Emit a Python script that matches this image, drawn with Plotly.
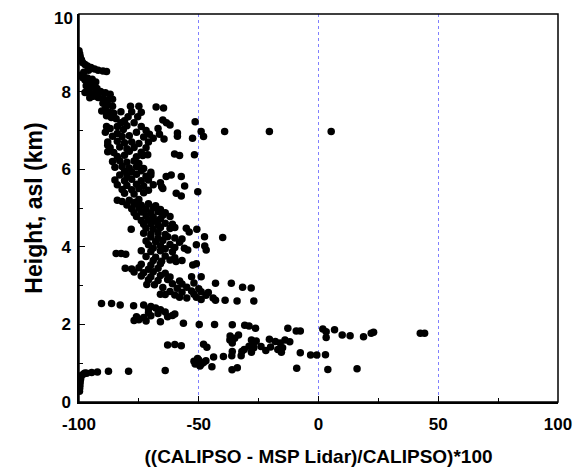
import plotly.graph_objects as go

# ---- data (x = % difference, h = height km asl) ----
top_x = [-100, -99.7, -99.5, -99, -98.5, -97.5, -96.5, -95, -93.5, -92, -90, -88.5, -96, -98,
         -99, -98.5, -97.5, -96.5, -94.5, -93, -95.5, -97, -94, -92.5, -96, -97.5, -95]
top_h = [9.05, 8.97, 8.9, 8.82, 8.75, 8.7, 8.66, 8.62, 8.58, 8.55, 8.53, 8.52, 8.55, 8.5,
         8.43, 8.36, 8.3, 8.35, 8.32, 8.25, 8.2, 8.15, 8.12, 8.08, 8.03, 7.98, 7.95]

upper_x = [-93, -91, -89, -87, -94, -92, -90, -88, -86, -95.5, -90, -88, -86, -89, -90.5,
           -87.5, -85.5, -88.5, -86.5, -84.5, -82.5, -78.5, -75, -78, -74, -79.5, -75.5,
           -67.8, -64.7, -81, -80, -81.5, -88.5, -87, -84, -84, -74, -70.6, -67, -66.4, -65,
           -63.5, -62, -64.5, -58.9, -58.9, -52.6, -51.5, -49, -48, -39.2, -20.5, 5.3, -82.5,
           -77, -72, -76, -89, -86, -82, -79, -73, -69]
upper_h = [7.98, 8.0, 7.97, 7.93, 7.88, 7.85, 7.82, 7.79, 7.8, 7.84, 7.7, 7.66, 7.62, 7.55, 7.5,
           7.47, 7.44, 7.38, 7.33, 7.3, 7.48, 7.62, 7.62, 7.48, 7.47, 7.35, 7.35,
           7.6, 7.58, 7.25, 7.12, 7.02, 7.1, 7.05, 7.1, 6.92, 7.1, 6.9, 7.05, 6.9, 7.27,
           7.2, 7.14, 6.78, 6.93, 6.85, 6.8, 7.22, 6.97, 6.84, 6.97, 6.97, 6.97, 7.2,
           7.2, 7.0, 6.95, 6.95, 6.85, 6.84, 6.86, 6.83, 6.8]

mid_x = [-88, -84, -81, -78, -75, -71, -87, -83, -80, -77, -72, -88, -85.5, -79, -74, -84, -81,
         -76, -73.4, -71.3, -60.1, -58, -51.8, -86, -83, -80, -77, -75, -85, -82, -79, -76, -73,
         -81, -78, -74, -70, -88]
mid_h = [6.7, 6.72, 6.68, 6.7, 6.66, 6.7, 6.55, 6.57, 6.53, 6.56, 6.55, 6.45, 6.43, 6.46, 6.44,
         6.33, 6.36, 6.32, 6.35, 6.37, 6.39, 6.35, 6.37, 6.2, 6.22, 6.18, 6.21, 6.15, 6.05, 6.07,
         6.03, 6.06, 6.02, 5.95, 5.93, 5.96, 5.92, 6.62]

core_x = [-83, -80, -76, -72, -70, -63.6, -61.5, -57.3, -85, -81, -78, -74, -71, -66, -84, -80,
          -76, -73, -69, -65.5, -55.9, -82, -78, -75, -71, -65, -81, -77, -73, -59.4, -50.4,
          -57.3, -84, -82, -79, -76.5, -75, -80, -77, -74, -71, -68, -78, -75, -72, -69, -66,
          -77, -74, -70, -67, -64, -76, -72, -69, -65, -62, -74, -71, -68, -66, -73, -70, -67,
          -64, -61, -78.2, -72, -69, -66, -62, -60, -55.2, -50.8, -54]
core_h = [5.85, 5.83, 5.87, 5.82, 5.85, 5.81, 5.85, 5.81, 5.72, 5.7, 5.74, 5.7, 5.72, 5.65, 5.6,
          5.58, 5.61, 5.57, 5.6, 5.55, 5.57, 5.48, 5.47, 5.5, 5.46, 5.5, 5.38, 5.36, 5.39, 5.38,
          5.42, 5.31, 5.2, 5.17, 5.2, 5.15, 5.22, 5.08, 5.1, 5.07, 5.11, 5.06, 4.98, 5.0, 4.97,
          5.01, 4.96, 4.88, 4.9, 4.87, 4.91, 4.88, 4.78, 4.8, 4.77, 4.81, 4.78, 4.68, 4.7, 4.66,
          4.72, 4.58, 4.6, 4.57, 4.61, 4.58, 4.45, 4.48, 4.46, 4.5, 4.47, 4.5, 4.48, 4.45, 4.38]

lower_x = [-73, -70, -67, -64, -70, -67, -63, -60, -57, -47.6, -40, -72, -68, -65, -58, -71, -66,
           -62, -51, -47.5, -69, -64, -60, -56, -74, -70, -66, -61, -54.6, -46.9, -84.5, -82.4,
           -80.5, -72, -68, -64, -60, -69, -65.5, -62, -59.5, -57, -74, -70, -66, -52.5, -51,
           -80.7, -78, -75, -71, -67, -77, -73, -69, -64, -74, -70, -66, -62, -53, -49, -71,
           -67, -63, -58, -71.7, -68.5, -61, -57, -52, -43, -36.4, -65, -59, -55, -50, -31.7,
           -28.1, -62, -57, -53, -49, -46, -66, -64, -60, -52, -47, -58, -55, -51, -44, -39,
           -34, -27, -43, -49]
lower_h = [4.35, 4.33, 4.36, 4.32, 4.25, 4.22, 4.26, 4.23, 4.2, 4.26, 4.24, 4.15, 4.13, 4.16,
           4.12, 4.05, 4.03, 4.06, 4.05, 4.02, 3.97, 3.95, 3.98, 3.96, 3.9, 3.88, 3.9, 3.87,
           3.92, 3.92, 3.83, 3.83, 3.81, 3.75, 3.73, 3.76, 3.72, 3.65, 3.63, 3.66, 3.62, 3.65,
           3.55, 3.53, 3.56, 3.53, 3.56, 3.45, 3.43, 3.46, 3.42, 3.45, 3.35, 3.33, 3.36, 3.32,
           3.25, 3.23, 3.26, 3.22, 3.23, 3.23, 3.15, 3.13, 3.16, 3.12, 3.03, 3.02, 3.05, 3.04,
           3.07, 3.06, 3.06, 2.95, 2.93, 2.96, 2.92, 2.96, 2.94, 2.85, 2.83, 2.86, 2.84, 2.82,
           2.78, 2.77, 2.76, 2.78, 2.75, 2.7, 2.68, 2.7, 2.68, 2.62, 2.6, 2.6, 2.62, 2.64]

band_x = [-90.6, -86.4, -82.8, -77.2, -73, -70, -71, -68, -66, -71, -67, -64, -60, -76, -73, -70,
          -63, -61, -77, -75, -72, -66, -56.4, -49.8, -43.4, -36, -30.8, -29, -26.3]
band_h = [2.54, 2.54, 2.5, 2.48, 2.5, 2.46, 2.4, 2.42, 2.38, 2.3, 2.28, 2.32, 2.27, 2.2, 2.18,
          2.22, 2.2, 2.23, 2.1, 2.12, 2.09, 2.07, 2.03, 2.0, 2.0, 1.99, 1.98, 1.96, 1.9]

low_x = [-12.8, 1.8, 6.7, -9.3, -7.6, 3.2, 23, 22, 42.5, 44.3, -33.4, -36.9, 9.9, 13.2, 18.8, 3.2,
         -37, -35, -28, -26, -20.5, -18, -14, -12, -36, -27, -16, -63, -60, -57.3, -48, -46.6,
         -29, -27, -24, -20, -15, -31, -22, -17, -36, -32, -28, -15.5, -7.6, -3.3, -0.7, 2.9,
         -43.8, -39.7, -36.2, -32.3, -52, -51, -50, -49, -48, -50.5, -49.5, -51.5, -47, -44.5,
         -33.9, -36.1, -9.1, 3.9, 16.1]
low_h = [1.9, 1.88, 1.86, 1.83, 1.83, 1.81, 1.8, 1.77, 1.77, 1.77, 1.73, 1.7, 1.73, 1.71, 1.68,
         1.66, 1.6, 1.64, 1.6, 1.57, 1.62, 1.56, 1.6, 1.55, 1.52, 1.52, 1.52, 1.47, 1.48, 1.45,
         1.49, 1.41, 1.44, 1.4, 1.43, 1.42, 1.4, 1.35, 1.33, 1.35, 1.3, 1.3, 1.28, 1.28, 1.27,
         1.21, 1.21, 1.22, 1.16, 1.17, 1.19, 1.19, 1.05, 1.0, 1.08, 0.97, 1.02, 1.12, 0.93, 0.98,
         1.06, 0.91, 0.88, 0.83, 0.87, 0.84, 0.86]

base_x = [-64, -79.3, -87.7, -92.3, -94.7, -96.8, -98.1, -99, -99.3, -99.5, -99.6, -99.7, -99.8,
          -97.5]
base_h = [0.81, 0.79, 0.79, 0.77, 0.76, 0.74, 0.72, 0.68, 0.6, 0.52, 0.44, 0.36, 0.28, 0.75]

x_ticks = [-100, -50, 0, 50, 100]
y_ticks = [0, 2, 4, 6, 8, 10]
y_tick_labels = ["0", "2", "4", "6", "8", ""]   # "10" is drawn as an annotation below
top_label = "10"

all_x = top_x + upper_x + mid_x + core_x + lower_x + band_x + low_x + base_x
all_h = top_h + upper_h + mid_h + core_h + lower_h + band_h + low_h + base_h

FONT = "Liberation Sans, Arial, sans-serif"
TICKFONT = dict(family=FONT, size=17, color="black", weight="bold")

fig = go.Figure(
    go.Scatter(
        x=all_x, y=all_h, mode="markers",
        marker=dict(color="black", size=7.5, line=dict(width=0)),
        hoverinfo="x+y",
    )
)

axis_common = dict(
    showline=True, linecolor="black", linewidth=1.5, mirror=False,
    ticks="inside", ticklen=6, tickwidth=1.2, tickcolor="black",
    zeroline=False, automargin=False, ticklabeloverflow="allow",
    tickfont=TICKFONT,
)

# the page body adds an 8px offset, so the figure is 8px smaller and margins compensate
fig.update_layout(
    width=576, height=462,
    margin=dict(l=71, r=26, t=6, b=68, autoexpand=False),
    paper_bgcolor="white", plot_bgcolor="white",
    showlegend=False,
    xaxis=dict(
        axis_common,
        range=[-100, 100], tickvals=x_ticks, ticktext=[str(v) for v in x_ticks],
        ticklabelstandoff=6,
        showgrid=True, gridcolor="#8080ff", gridwidth=1, griddash="3px,3px",
        minor=dict(ticks="inside", ticklen=4, tickwidth=1.2, tickcolor="black", dtick=25,
                   tick0=-100, showgrid=False),
        title=dict(text="((CALIPSO - MSP Lidar)/CALIPSO)*100",
                   font=dict(family=FONT, size=19, color="black", weight="bold"),
                   standoff=17),
    ),
    yaxis=dict(
        axis_common,
        range=[0, 10], tickvals=y_ticks, ticktext=y_tick_labels,
        ticklabelstandoff=3,
        showgrid=False,
        minor=dict(ticks="inside", ticklen=4, tickwidth=1.2, tickcolor="black", dtick=1,
                   tick0=0, showgrid=False),
        title=dict(text="Height, asl (km)",
                   font=dict(family=FONT, size=23, color="black", weight="bold"),
                   standoff=12),
    ),
    annotations=[dict(text=top_label, xref="paper", yref="y", x=0, y=y_ticks[-1],
                      xanchor="right", yanchor="middle", xshift=-5, yshift=-4,
                      showarrow=False, borderpad=0, font=TICKFONT)],
    shapes=[dict(type="rect", xref="paper", yref="paper", x0=0, x1=1, y0=0, y1=1,
                 line=dict(color="black", width=1.5), fillcolor="rgba(0,0,0,0)",
                 layer="above")],
)

fig.write_html("out.html")
